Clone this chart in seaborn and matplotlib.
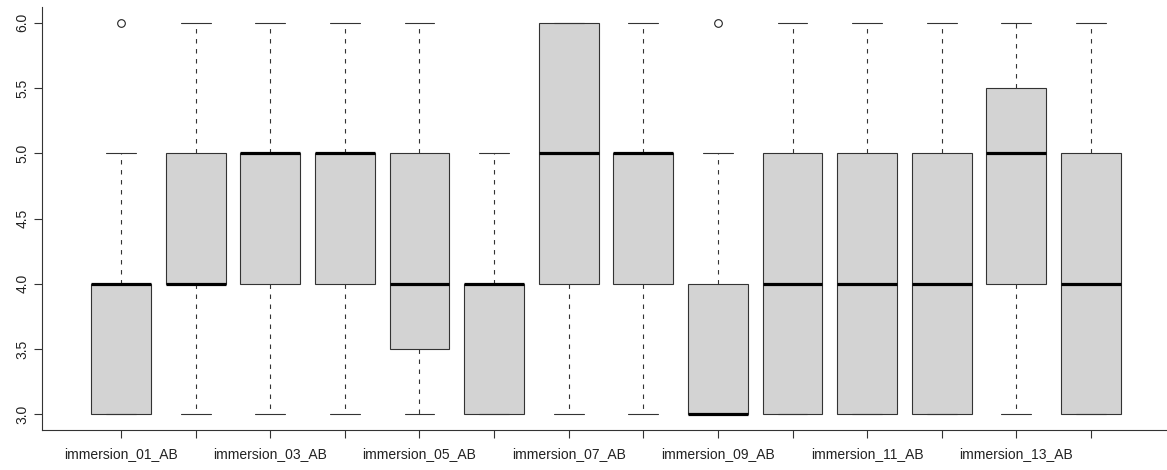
import matplotlib
matplotlib.use("Agg")
import matplotlib.pyplot as plt
import seaborn as sns

# ---- data ----
categories = [f"immersion_{i:02d}_AB" for i in range(1, 15)]
whisker_low = [3, 3, 3, 3, 3, 3, 3, 3, 3, 3, 3, 3, 3, 3]
q1_values   = [3, 4, 4, 4, 3.5, 3, 4, 4, 3, 3, 3, 3, 4, 3]
medians     = [4, 4, 5, 5, 4, 4, 5, 5, 3, 4, 4, 4, 5, 4]
q3_values   = [4, 5, 5, 5, 5, 4, 6, 5, 4, 5, 5, 5, 5.5, 5]
whisker_high = [5, 6, 6, 6, 6, 5, 6, 6, 5, 6, 6, 6, 6, 6]
outliers    = [[6], [], [], [], [], [], [], [], [6], [], [], [], [], []]
y_ticks = [3.0, 3.5, 4.0, 4.5, 5.0, 5.5, 6.0]

sns.set_style("ticks")
plt.rcParams['font.family'] = ['Liberation Sans', 'DejaVu Sans']

fig = plt.figure(figsize=(11.67, 4.70), dpi=100)
W, H = 1167, 470
ax = fig.add_axes([42 / W, (H - 430) / H, (1170 - 42) / W, (430 - 7) / H])

stats = []
for name, lo, q1, med, q3, hi, fl in zip(categories, whisker_low, q1_values,
                                         medians, q3_values, whisker_high, outliers):
    stats.append(dict(label=name, whislo=lo, q1=q1, med=med, q3=q3, whishi=hi, fliers=fl))

positions = list(range(1, len(categories) + 1))
ax.bxp(stats, positions=positions, widths=0.8, capwidths=0.4, patch_artist=True,
       boxprops=dict(facecolor="#D3D3D3", edgecolor="#333333", linewidth=0.8),
       medianprops=dict(color="black", linewidth=2.3, solid_capstyle="butt"),
       whiskerprops=dict(color="#333333", linewidth=0.8, linestyle=(0, (4, 5))),
       capprops=dict(color="#333333", linewidth=0.8),
       flierprops=dict(marker="o", markersize=5.5, markerfacecolor="none",
                       markeredgecolor="#222222", markeredgewidth=0.8))

n = len(categories)
ax.set_xlim(0.5 - 0.04 * n, n + 0.5 + 0.04 * n)
ax.set_ylim(3 - 0.12, 6 + 0.12)

ax.set_xticks(positions)
ax.set_xticklabels([c if i % 2 == 0 else "" for i, c in enumerate(categories)], fontsize=10)
ax.set_yticks(y_ticks)
ax.set_yticklabels([f"{v:.1f}" for v in y_ticks], fontsize=10, rotation=90, va="center")

for s in ["top", "right"]:
    ax.spines[s].set_visible(False)
for s in ["left", "bottom"]:
    ax.spines[s].set_color("#333333")
    ax.spines[s].set_linewidth(0.8)
ax.tick_params(axis="both", length=6, width=0.8, color="#333333", colors="#222222")
ax.tick_params(axis="x", pad=6)
ax.tick_params(axis="y", pad=3)
ax.grid(False)

fig.savefig("out.png", dpi=100)
